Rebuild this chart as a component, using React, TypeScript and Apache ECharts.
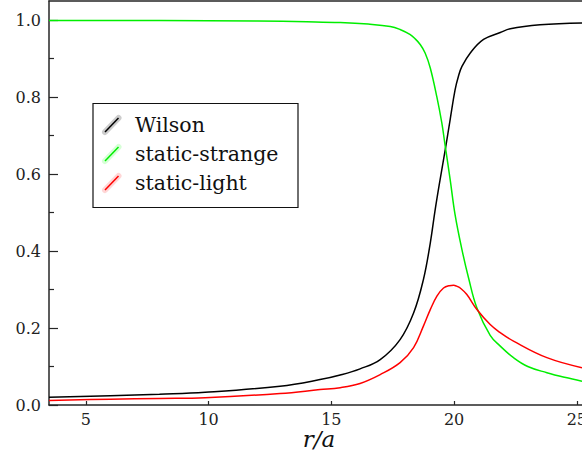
import React, { useEffect, useRef } from "react";
import * as echarts from "echarts";

const wilsonX = [3.5, 6, 8, 9.86, 12.91, 14.54, 15.36, 16.17, 16.99, 17.8, 18.35, 18.75, 19.03, 19.23, 19.43, 19.64, 19.84, 20.04, 20.18, 20.32, 20.66, 21.2, 21.88, 22.29, 23.5, 25.21];
const wilsonY = [0.02, 0.024, 0.028, 0.033, 0.049, 0.066, 0.078, 0.094, 0.118, 0.17, 0.239, 0.326, 0.421, 0.508, 0.586, 0.664, 0.742, 0.819, 0.855, 0.88, 0.915, 0.95, 0.968, 0.978, 0.988, 0.993];

const strangeX = [3.5, 8, 12, 14, 15.36, 16.5, 17.4, 17.8, 18.2, 18.41, 18.62, 18.82, 19.03, 19.3, 19.5, 19.64, 19.84, 20.04, 20.32, 20.59, 20.93, 21.47, 21.88, 22.42, 23.0, 23.78, 24.5, 25.21];
const strangeY = [0.999, 0.999, 0.998, 0.996, 0.994, 0.99, 0.984, 0.976, 0.963, 0.952, 0.937, 0.915, 0.876, 0.8, 0.733, 0.672, 0.586, 0.495, 0.404, 0.33, 0.252, 0.181, 0.153, 0.123, 0.1, 0.084, 0.072, 0.062];

const lightX = [3.5, 6, 8, 9.86, 12.91, 14.54, 15.36, 16.17, 16.99, 17.8, 18.35, 18.75, 19.03, 19.3, 19.57, 19.8, 19.98, 20.1, 20.25, 20.52, 20.93, 21.47, 21.88, 22.42, 23.78, 25.21];
const lightY = [0.012, 0.015, 0.017, 0.019, 0.03, 0.04, 0.045, 0.056, 0.079, 0.11, 0.149, 0.205, 0.248, 0.283, 0.304, 0.31, 0.311, 0.309, 0.304, 0.287, 0.248, 0.209, 0.188, 0.166, 0.123, 0.097];

const xTicks = [5, 10, 15, 20, 25];
const yTicks = [0, 0.2, 0.4, 0.6, 0.8, 1.0];
const yMinorTicks = [0.1, 0.3, 0.5, 0.7, 0.9];

const seriesNames = ["Wilson", "static-strange", "static-light"];
const seriesColors = ["#000000", "#00ee00", "#ff0000"];
const glowColors = ["rgba(0,0,0,0.2)", "rgba(0,255,0,0.16)", "rgba(255,0,0,0.16)"];

const FONT = "DejaVu Serif, Liberation Serif, serif";
const AXIS_COLOR = "#262626";

function zip(xs: number[], ys: number[]) {
  return xs.map((x, i) => [x, ys[i]]);
}

export default function App() {
  const ref = useRef<HTMLDivElement>(null);
  useEffect(() => {
    if (!ref.current) return;
    const chart = echarts.init(ref.current, null, { renderer: "svg" });
    const datasets = [zip(wilsonX, wilsonY), zip(strangeX, strangeY), zip(lightX, lightY)];

    const legendItems: any[] = [
      {
        type: "rect",
        shape: { x: 93, y: 103.5, width: 205, height: 104 },
        style: { fill: "#fff", stroke: "#111", lineWidth: 1.2 },
        z: 10,
      },
    ];
    seriesNames.forEach((name, i) => {
      const cy = 125 + i * 29;
      legendItems.push({
        type: "line",
        shape: { x1: 105, y1: cy + 7, x2: 118.5, y2: cy - 7 },
        style: { stroke: glowColors[i], lineWidth: 6, lineCap: "round" },
        z: 11,
      });
      legendItems.push({
        type: "line",
        shape: { x1: 105, y1: cy + 7, x2: 118.5, y2: cy - 7 },
        style: { stroke: seriesColors[i], lineWidth: 1.5 },
        z: 12,
      });
      legendItems.push({
        type: "text",
        x: 135,
        y: cy,
        style: {
          text: name,
          fontFamily: FONT,
          fontSize: 20.5,
          fill: "#111",
          verticalAlign: "middle",
          align: "left",
        },
        z: 12,
      });
    });

    chart.setOption({
      animation: false,
      backgroundColor: "#fff",
      grid: { left: 49, right: 0, top: 1, bottom: 47, containLabel: false, outerBoundsMode: "none" },
      xAxis: [
        {
          type: "value",
          min: 3.5,
          max: 25.21,
          position: "bottom",
          axisLine: { show: true, onZero: false, lineStyle: { color: AXIS_COLOR, width: 1.5 } },
          axisTick: { show: true, inside: true, length: 4, customValues: xTicks, lineStyle: { color: AXIS_COLOR, width: 1.2 } },
          axisLabel: { customValues: xTicks, margin: 6, fontFamily: FONT, fontSize: 16, color: "#222", hideOverlap: false },
          splitLine: { show: false },
        },
        {
          type: "value",
          min: 3.5,
          max: 25.21,
          position: "top",
          axisLine: { show: true, onZero: false, lineStyle: { color: AXIS_COLOR, width: 1.5 } },
          axisTick: { show: false },
          axisLabel: { show: false },
          splitLine: { show: false },
        },
      ],
      yAxis: [
        {
          type: "value",
          min: 0,
          max: 1.05,
          axisLine: { show: true, onZero: false, lineStyle: { color: AXIS_COLOR, width: 1.5 } },
          axisTick: { show: true, inside: true, length: 9, customValues: yTicks, lineStyle: { color: AXIS_COLOR, width: 1.2 } },
          axisLabel: {
            customValues: yTicks,
            margin: 8,
            fontFamily: FONT,
            fontSize: 16,
            color: "#222",
            formatter: (v: number) => v.toFixed(1),
          },
          splitLine: { show: false },
        },
        {
          type: "value",
          min: 0,
          max: 1.05,
          position: "left",
          axisLine: { show: false },
          axisTick: { show: true, inside: true, length: 5, customValues: yMinorTicks, lineStyle: { color: AXIS_COLOR, width: 1.2 } },
          axisLabel: { show: false },
          splitLine: { show: false },
        },
      ],
      series: seriesNames.map((name, i) => ({
        name,
        type: "line",
        data: datasets[i],
        showSymbol: false,
        smooth: 0.4,
        clip: true,
        lineStyle: { color: seriesColors[i], width: 1.5 },
        itemStyle: { color: seriesColors[i] },
        z: 3 + i,
      })),
      graphic: [
        ...legendItems,
        {
          type: "text",
          x: 319,
          y: 439,
          style: {
            text: "r/a",
            fontFamily: FONT,
            fontStyle: "italic",
            fontSize: 23,
            fill: "#111",
            align: "center",
            verticalAlign: "middle",
          },
        },
      ],
    });
    return () => chart.dispose();
  }, []);
  return (
    <div
      ref={ref}
      style={{ position: "fixed", left: 0, top: 0, width: 582, height: 452 }}
    />
  );
}
